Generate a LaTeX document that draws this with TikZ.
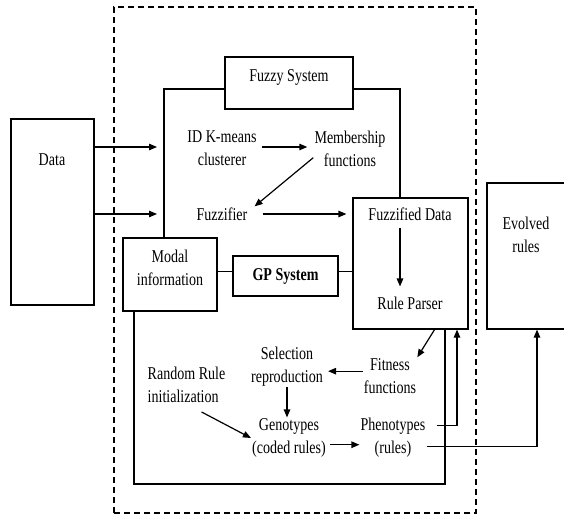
\documentclass[tikz,border=0pt]{standalone}
\usepackage{fontspec}
\setmainfont{Liberation Serif}[FakeStretch=0.78]
\usetikzlibrary{arrows.meta, positioning}

\begin{document}
\begin{tikzpicture}[x=1pt,y=-1pt,font=\fontsize{18}{23}\selectfont,
  box/.style={draw,line width=1.2pt,inner sep=0pt},
  lbl/.style={align=center,inner sep=1pt},
  wire/.style={line width=1.2pt},
  arr/.style={line width=1.2pt,-{Triangle[length=8pt,width=6.5pt]}}]
  \clip (0,0) rectangle (564,517);
  % outer dashed frame
  \node[box,dashed,dash pattern=on 6pt off 4pt,minimum width=362pt,
        minimum height=506pt] (sys) at (295,260) {};
  % boxes
  \node[box,minimum width=83pt,minimum height=186pt] (data) at (52.5,212) {};
  \node[lbl] (datat) at (52,160) {Data};
  \node[box,minimum width=128pt,minimum height=52pt] (fuzzy) at (289,83) {};
  \node[lbl] (fuzzyt) at (289,77) {Fuzzy System};
  \node[box,minimum width=94pt,minimum height=73pt] (modal) at (170,274.5) {};
  \node[lbl] (modalt) at (170,267.5) {Modal\\information};
  \node[box,minimum width=105pt,minimum height=40pt] (gp) at (285.5,276) {\textbf{GP System}};
  \node[box,minimum width=115pt,minimum height=131pt] (parser) at (410.5,263.5) {};
  \node[box,minimum width=100pt,minimum height=146pt] (evo) at (537,256) {};
  \node[lbl] (evot) at (526,234.5) {Evolved\\rules};
  % texts
  \node[lbl] (idk) at (222,148.5) {ID K-means\\clusterer};
  \node[lbl] (mem) at (350,148.5) {Membership\\functions};
  \node[lbl] (fuzz) at (222,214) {Fuzzifier};
  \node[lbl] (fzd) at (410,214) {Fuzzified Data};
  \node[lbl] (rp) at (410,303) {Rule Parser};
  \node[lbl] (fit) at (390,376) {Fitness\\functions};
  \node[lbl] (sel) at (287,366.5) {Selection\\reproduction};
  \node[lbl,align=left] (rnd) at (186.5,385) {Random Rule\\initialization};
  \node[lbl] (geno) at (289,438) {Genotypes\\(coded rules)};
  \node[lbl] (pheno) at (393,437.5) {Phenotypes\\(rules)};
  % frame corners
  \coordinate (fzl) at (164,89);
  \coordinate (fzr) at (400,89);
  \coordinate (gpbl) at (134,484);
  \coordinate (gpbr) at (445,484);
  \coordinate (in1) at (157,147);
  \coordinate (in2) at (157,214);
  \coordinate (up1) at (457,0);
  % frames
  \draw[wire] (modal.north -| fzl) -- (fzl) -- (fuzzy.west |- fzl);
  \draw[wire] (fuzzy.east |- fzr) -- (fzr) -- (parser.north -| fzr);
  \draw[wire] (modal.south -| gpbl) -- (gpbl) -- (gpbr) -- (parser.south -| gpbr);
  \draw[wire] (modal.east |- gp.175) -- (gp.175);
  \draw[wire] (gp.5) -- (parser.west |- gp.5);
  % connectors
  \draw[arr] (data.east |- in1) -- (in1);
  \draw[arr] (data.east |- in2) -- (in2);
  \draw[arr,shorten <=4pt,shorten >=6pt] (idk.east |- 0,147) -- (mem.west |- 0,147);
  \draw[arr] (mem.194) -- ([xshift=6pt]fuzz.north east);
  \draw[arr,shorten <=14pt,shorten >=6pt] (fuzz.east) -- (parser.west |- fzd);
  \draw[arr,shorten <=6pt,shorten >=9pt] (fzd.south -| fzr) -- (rp.north -| fzr);
  \draw[arr] (parser.290) -- (fit.north east);
  \draw[arr,shorten >=4pt] (fit.170) -- (sel.east |- fit.170);
  \draw[arr] (sel.south) -- (sel.south |- geno.north);
  \draw[arr,shorten <=17pt] (rnd.south) -- (geno.west);
  \draw[arr,shorten <=3pt] (geno.-10) -- (pheno.west |- geno.-10);
  \draw[arr,shorten <=10pt] (pheno.20) -| (up1 |- parser.south);
  \draw[arr] (pheno.-15) -| (evo.south);
\end{tikzpicture}
\end{document}
